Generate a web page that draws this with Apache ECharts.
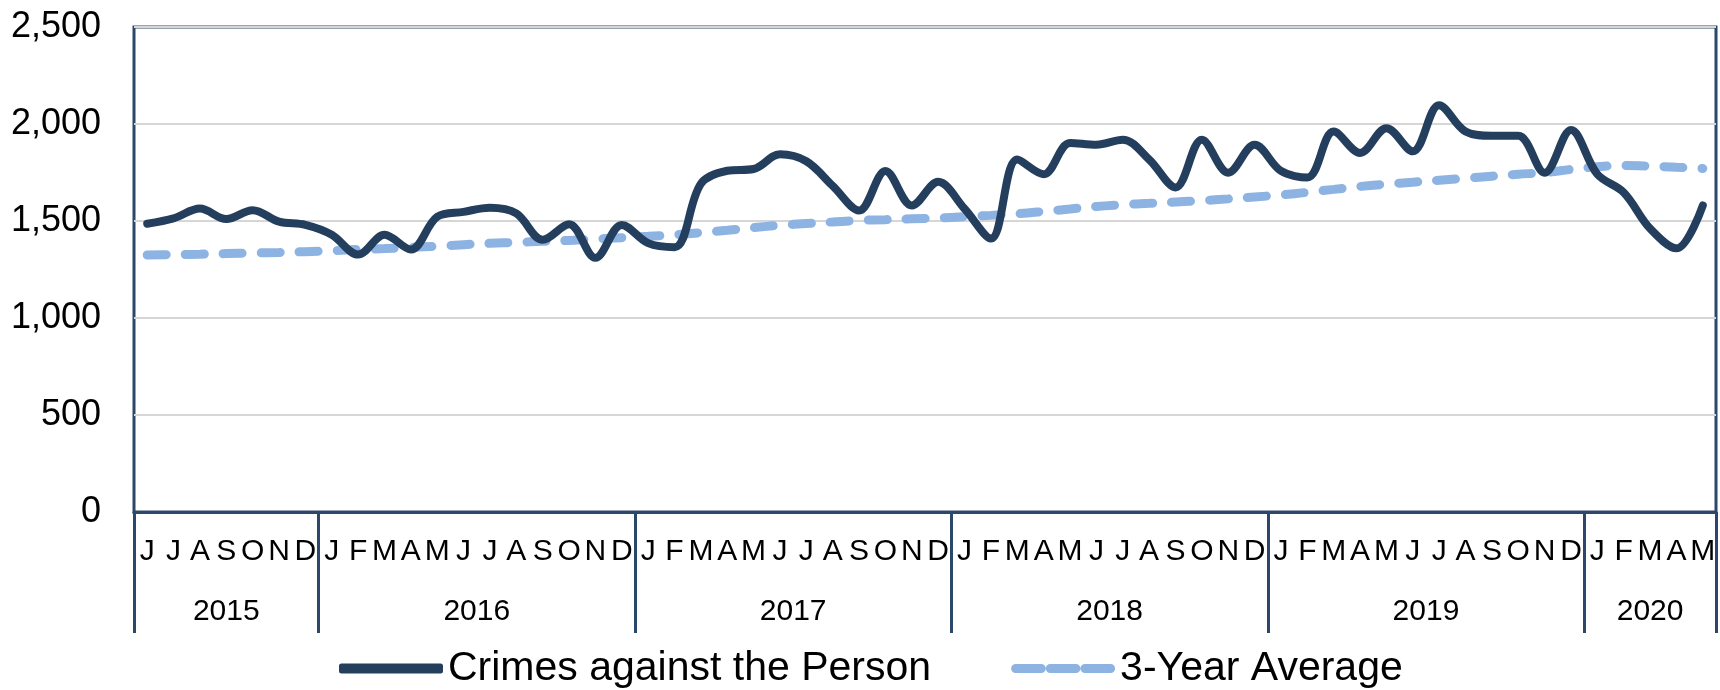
<!DOCTYPE html>
<html>
<head>
<meta charset="utf-8">
<script src="https://cdn.jsdelivr.net/npm/echarts@6/dist/echarts.min.js"></script>
<style>
  html, body { margin: 0; padding: 0; background: #ffffff; }
  #chart { width: 1720px; height: 690px; }
</style>
</head>
<body>
<div id="chart"></div>
<script>
// Month initials, June 2015 to May 2020
const monthLabels = [
  'J','J','A','S','O','N','D',
  'J','F','M','A','M','J','J','A','S','O','N','D',
  'J','F','M','A','M','J','J','A','S','O','N','D',
  'J','F','M','A','M','J','J','A','S','O','N','D',
  'J','F','M','A','M','J','J','A','S','O','N','D',
  'J','F','M','A','M'
];
const yearLabels = ['2015','2016','2017','2018','2019','2020'];
const yearMonthCounts = [7, 12, 12, 12, 12, 5];

const crimesAgainstPerson = [
  1486,1514,1564,1510,1556,1497,1480,1429,1327,1429,1353,1522,
  1547,1568,1539,1403,1483,1310,1480,1386,1365,1692,1759,1768,
  1844,1808,1681,1554,1758,1580,1702,1563,1410,1817,1741,1902,
  1893,1919,1817,1673,1919,1749,1893,1758,1724,1961,1851,1978,
  1859,2097,1961,1939,1939,1749,1969,1741,1647,1461,1359,1580
];
const threeYearAverage = [
  1325,1327,1329,1332,1335,1338,1342,1347,1353,1358,1364,1370,
  1378,1385,1390,1395,1400,1407,1414,1421,1429,1440,1452,1466,
  1478,1487,1495,1503,1507,1511,1515,1522,1529,1537,1549,1562,
  1575,1584,1591,1598,1605,1614,1624,1634,1648,1663,1678,1690,
  1700,1710,1720,1731,1741,1750,1766,1780,1786,1783,1777,1771
];

const yTicks = { min: 0, max: 2500, interval: 500 };

// year boundaries and centres on a 0..N month scale
const boundaries = [0];
yearMonthCounts.forEach(c => boundaries.push(boundaries[boundaries.length - 1] + c));
const centres = yearMonthCounts.map((c, k) => boundaries[k] + c / 2);
const totalMonths = boundaries[boundaries.length - 1];

const NAVY = '#243E5E';
const BORDER = '#2B4769';
const LIGHT = '#8DB3E2';
const FONT = 'Liberation Sans, Arial, sans-serif';

const chart = echarts.init(document.getElementById('chart'), null, { renderer: 'canvas' });

chart.setOption({
  backgroundColor: '#ffffff',
  animation: false,
  grid: {
    left: 134, right: 4, top: 27, bottom: 178,
    show: true, borderColor: BORDER, borderWidth: 3, backgroundColor: 'transparent'
  },
  legend: {
    left: 334, top: 643,
    itemWidth: 104, itemHeight: 10, itemGap: 80,
    selectedMode: false,
    textStyle: { fontFamily: FONT, fontSize: 41, color: '#000' },
    data: [
      { name: 'Crimes against the Person', icon: 'roundRect', itemStyle: { color: NAVY }, lineStyle: { width: 0 } },
      { name: '3-Year Average', icon: 'path://M0,0 L28,0 A5,5 0 0 1 28,10 L0,10 A5,5 0 0 1 0,0 Z M38,0 L66,0 A5,5 0 0 1 66,10 L38,10 A5,5 0 0 1 38,0 Z M76,0 L104,0 A5,5 0 0 1 104,10 L76,10 A5,5 0 0 1 76,0 Z', itemStyle: { color: LIGHT }, lineStyle: { width: 0 } }
    ]
  },
  xAxis: [
    {
      type: 'category',
      data: monthLabels.map((m, i) => String(i)),
      boundaryGap: true,
      position: 'bottom',
      axisLine: { show: true, lineStyle: { color: BORDER, width: 3 } },
      axisTick: { show: false },
      axisLabel: {
        interval: 0, margin: 25,
        fontFamily: FONT, fontSize: 30, color: '#000',
        formatter: (v, idx) => monthLabels[idx]
      },
      splitLine: { show: false }
    },
    {
      type: 'value',
      min: 0, max: totalMonths,
      position: 'bottom',
      axisLine: { show: false },
      axisTick: {
        show: true, inside: false, length: 121,
        customValues: boundaries,
        lineStyle: { color: BORDER, width: 3 }
      },
      axisLabel: {
        show: true, margin: 85,
        customValues: centres,
        fontFamily: FONT, fontSize: 30, color: '#000',
        formatter: (v) => {
          const k = centres.findIndex(c => Math.abs(c - v) < 1e-6);
          return k >= 0 ? yearLabels[k] : '';
        }
      },
      splitLine: { show: false }
    }
  ],
  yAxis: {
    type: 'value',
    min: yTicks.min, max: yTicks.max, interval: yTicks.interval,
    axisLine: { show: false },
    axisTick: { show: false },
    axisLabel: {
      margin: 33, fontFamily: FONT, fontSize: 36, color: '#000',
      formatter: v => v.toLocaleString('en-US')
    },
    splitLine: { show: true, lineStyle: { color: '#D6D6D6', width: 2 } }
  },
  series: [
    {
      name: '3-Year Average',
      type: 'line',
      xAxisIndex: 0,
      data: threeYearAverage,
      smooth: 0.35,
      symbol: 'none',
      lineStyle: { color: LIGHT, width: 9, type: [19, 19], cap: 'round' },
      itemStyle: { color: LIGHT },
      z: 2
    },
    {
      name: 'Crimes against the Person',
      type: 'line',
      xAxisIndex: 0,
      data: crimesAgainstPerson,
      smooth: 0.35,
      symbol: 'none',
      lineStyle: { color: NAVY, width: 8, cap: 'round', join: 'round' },
      itemStyle: { color: NAVY },
      z: 3
    }
  ]
});
</script>
</body>
</html>
